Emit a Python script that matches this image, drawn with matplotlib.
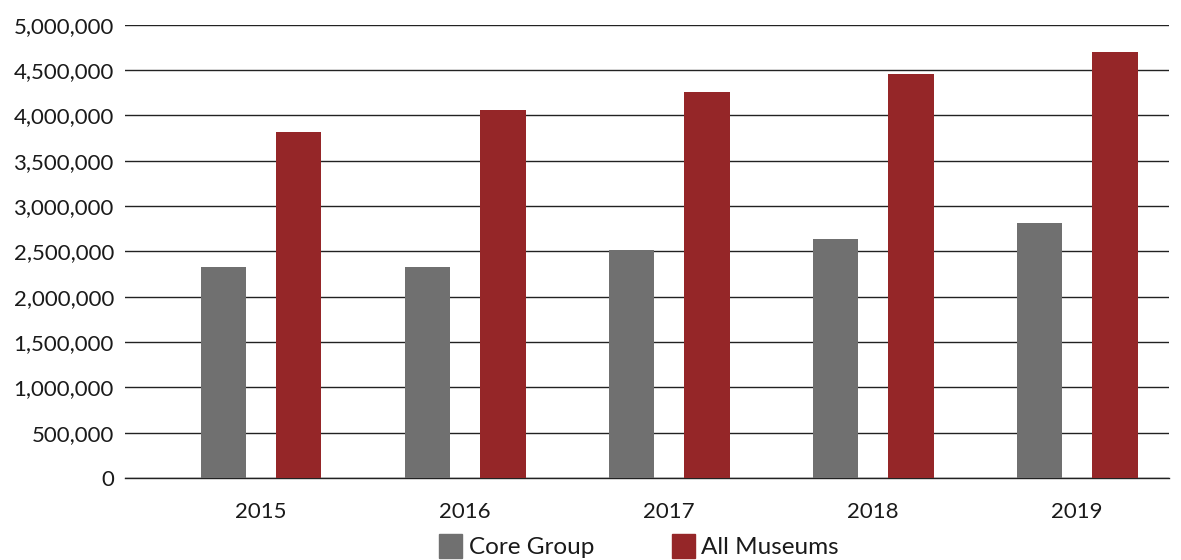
import numpy as np
import matplotlib.pyplot as plt
from matplotlib.ticker import FuncFormatter
from matplotlib.patches import Patch

plt.rcParams['font.family'] = ['Lato', 'DejaVu Sans']

years = ['2015', '2016', '2017', '2018', '2019']
core_group = [2330000, 2326000, 2514000, 2632000, 2815000]
all_museums = [3815000, 4061000, 4263000, 4454000, 4704000]

gray = '#707070'
red = '#952628'

fig = plt.figure(figsize=(11.81, 5.6), dpi=100)
ax = fig.add_axes([125 / 1181, 1 - 478 / 560, 1044 / 1181, 453.3 / 560])

x = np.arange(len(years))
w = 0.222
off = 0.185
ax.bar(x - off, core_group, w, color=gray, zorder=3)
ax.bar(x + off, all_museums, w, color=red, zorder=3)

ax.set_ylim(0, 5000000)
ax.set_yticks(np.arange(0, 5000001, 500000))
ax.yaxis.set_major_formatter(FuncFormatter(lambda v, p: f'{int(v):,}'))
ax.set_xlim(-0.667, 4.45)
ax.set_xticks(x)
ax.set_xticklabels(years)

ax.grid(axis='y', color='#222222', linewidth=1, zorder=0)
for s in ['top', 'right', 'left']:
    ax.spines[s].set_visible(False)
ax.spines['bottom'].set_color('#222222')
ax.spines['bottom'].set_linewidth(1)
ax.tick_params(axis='both', length=0, labelsize=16, colors='#1a1a1a')
ax.tick_params(axis='y', pad=8)
ax.tick_params(axis='x', pad=17)

handles = [Patch(color=gray, label='Core Group'), Patch(color=red, label='All Museums')]
fig.legend(handles=handles, loc='lower center', bbox_to_anchor=(0.541, -0.036), ncol=2,
           frameon=False, fontsize=17.5, handlelength=0.95, handleheight=1.1,
           handletextpad=0.25, columnspacing=3.2, labelcolor='#1a1a1a')

fig.savefig('out.png', dpi=100)
